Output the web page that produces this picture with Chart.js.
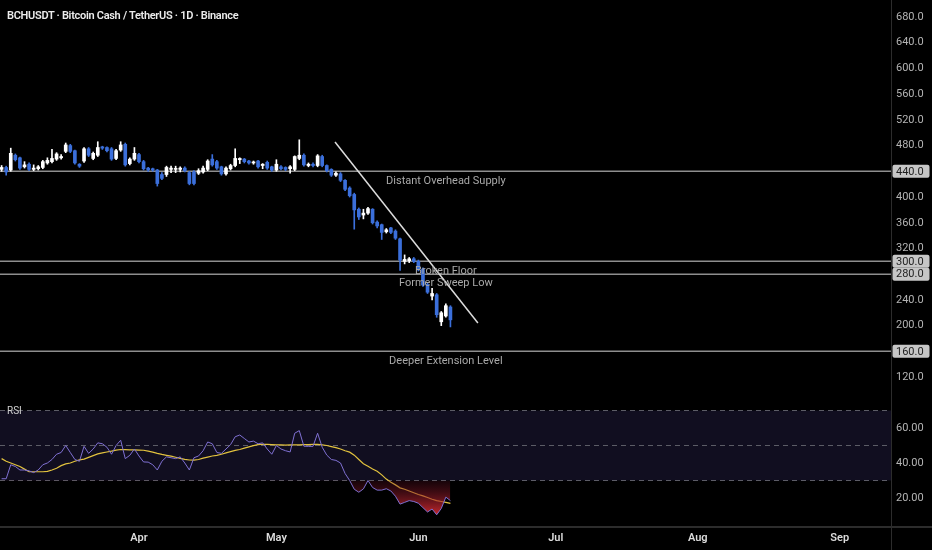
<!DOCTYPE html>
<html>
<head>
<meta charset="utf-8">
<script src="https://cdn.jsdelivr.net/npm/chart.js@4.4.0/dist/chart.umd.min.js"></script>
<style>
  html, body { margin: 0; padding: 0; background: #000; width: 932px; height: 550px; overflow: hidden; }
  #title { position: absolute; left: 7px; top: 9px; color: #ececec; font: 600 11px Roboto, sans-serif; letter-spacing: -0.3px; }
  #pwrap { position: absolute; left: 0; top: 0; width: 932px; height: 392px; }
  #rwrap { position: absolute; left: 0; top: 392px; width: 932px; height: 158px; }
</style>
</head>
<body>
<div id="pwrap"><canvas id="price"></canvas></div>
<div id="rwrap"><canvas id="rsi"></canvas></div>
<div id="title">BCHUSDT · Bitcoin Cash / TetherUS · 1D · Binance</div>
<script>
// daily candles, day 0 = Mar 1
const firstDay = 1;
const open = [443,446,442,465,461,447,451,443,444,446,453,455,459,461,471,480,472,451,456,475,
  460,465,478,477,475,460,473,482,452,459,466,455,445,444,442,435,435,443,443,443,
  445,438,439,437,439,443,459,455,447,436,444,449,458,459,456,453,456,449,454,447,
  442,447,446,444,443,460,465,449,451,449,463,449,443,434,436,426,414,404,381,372,
  375,381,361,357,346,352,347,335,300,301,304,300,288,264,246,248,206,215,229];
const high = [449,448,476,467,462,455,453,450,449,457,461,474,469,466,484,482,473,452,477,477,
  470,486,479,478,477,474,486,484,461,477,468,457,446,445,443,438,448,448,448,447,
  447,440,441,444,448,458,466,457,448,447,451,475,461,460,457,456,457,452,456,448,
  458,449,447,449,464,489,467,453,453,466,465,450,444,439,438,427,416,406,383,381,
  384,382,363,358,351,353,349,336,310,306,306,302,290,266,258,250,222,234,231];
const low = [440,434,440,456,443,445,441,441,442,444,451,453,457,459,469,469,451,446,454,463,
  458,463,474,470,457,458,471,448,450,457,453,442,440,440,417,427,432,438,438,439,
  439,419,419,435,437,441,448,443,434,434,442,447,452,453,451,451,445,444,443,440,
  440,442,441,437,441,458,448,447,447,447,447,439,432,432,424,410,400,350,365,366,
  373,358,352,334,344,343,334,286,296,298,298,285,261,250,240,213,200,213,198];
const close = [446,439,468,458,445,450,443,445,447,455,457,460,467,463,481,471,453,448,475,465,
  468,477,476,472,459,472,481,450,459,468,455,444,442,442,421,429,446,445,444,445,
  441,421,421,441,445,456,450,445,436,445,449,460,460,455,453,454,447,451,445,442,
  451,444,443,447,463,465,450,451,449,464,449,441,434,437,426,412,402,380,369,375,
  382,360,355,345,349,345,336,302,303,304,300,287,263,252,250,217,220,231,209];

// RSI(14) and its moving average
const rsi = [31,31,39,38,36,36,35.5,34.5,36,39,40,42,45,46,50,46,42,41,49.5,45.5,
  48,51.5,51,49,45,50,53,42.5,44.4,48,44,40.6,40.5,39,36,41,43.5,43,42.5,43.5,
  40,36,43,44,47,52,51,46,45.5,48,50.5,55,56,54,52,52.5,51,51.5,48,45,
  50,48,47,46.3,57,58.5,49.6,49.5,49.5,57,49,44.5,42,41.5,40,34,30,25,23.3,25.2,
  30,26,24.5,24.5,25.3,24,21,16.5,17.5,18.5,18,17,14.5,12,13.7,10.4,14,20.5,18.5];
const rsiMa = [42.5,41,40,39,38,36.5,35,35,35,35,35.2,36,37,38.5,39.5,40,41,41.8,42.2,43.2,
  44.2,45.2,45.8,46.3,46.8,47.4,47.7,47.6,47.5,47.5,47.4,47.3,46.8,46.2,45.5,44.9,44.4,43.9,43.3,42.6,
  42.1,41.7,41.6,42,42.8,43.4,44,44.4,45,45.8,46.5,47.2,47.7,48.5,49.2,49.9,50.5,50.7,50.6,50.5,
  50.4,50.3,50.2,50.3,50.3,50.4,50.5,50.5,50.6,50.6,50.4,50,49.4,48.8,48,47,46.2,44.5,42,39.6,
  38.2,36.6,35.3,33.2,30.8,29,27.5,25.8,25,24,23,22,21.2,20.3,19.3,18.5,18,17.5,16.9];

// drawn levels and trend line
const levels = [440, 300, 280, 160];
const levelNames = ['Distant Overhead Supply', 'Broken Floor', 'Former Sweep Low', 'Deeper Extension Level'];
const trendLine = [{x: 73.8, y: 485.6}, {x: 105, y: 204}];
const labelDay = 98;

// axis ticks
const priceTicks = [120,160,200,240,280,320,360,400,440,480,520,560,600,640,680];
const rsiTicks = [20, 40, 60];
const rsiBands = [70, 50, 30];
const monthStarts = [31, 61, 92, 122, 153, 184];
const monthNames = ['Apr', 'May', 'Jun', 'Jul', 'Aug', 'Sep'];

const xMin = 0.65, xMax = 195.2;
const priceMin = 96.8, priceMax = 706.4;
const rsiMin = 4, rsiMax = 80.57;

const UP = '#ffffff', DOWN = '#3b6fdb';
const days = open.map((_, i) => firstDay + i);
const colors = open.map((o, i) => close[i] >= o ? UP : DOWN);

Chart.defaults.font.family = 'Roboto, sans-serif';
Chart.defaults.font.size = 11;

const fitY = s => { s.width = 41; s.paddingTop = 0; s.paddingBottom = 0; };

const priceExtras = {
  id: 'priceExtras',
  afterDatasetsDraw(chart) {
    const {ctx, scales: {x, y}} = chart;
    ctx.save();
    ctx.font = '11px Roboto, sans-serif';
    ctx.fillStyle = '#a9a9a9';
    ctx.textAlign = 'center';
    ctx.textBaseline = 'middle';
    levels.forEach((lv, i) => {
      ctx.fillText(levelNames[i], x.getPixelForValue(labelDay), y.getPixelForValue(lv) + 9.5);
    });
    ctx.restore();
  },
  afterDraw(chart) {
    const {ctx, chartArea: a, scales: {y}} = chart;
    ctx.save();
    ctx.strokeStyle = '#2c2c2c';
    ctx.lineWidth = 1;
    ctx.beginPath();
    ctx.moveTo(a.right + 0.5, 0);
    ctx.lineTo(a.right + 0.5, chart.height);
    ctx.stroke();
    ctx.font = '11px Roboto, sans-serif';
    ctx.textBaseline = 'middle';
    ctx.textAlign = 'left';
    levels.forEach(lv => {
      const py = y.getPixelForValue(lv);
      ctx.fillStyle = '#c6c6c6';
      ctx.beginPath();
      ctx.roundRect(a.right + 1.5, py - 6.5, 37, 13, 2);
      ctx.fill();
    });
    levels.forEach(lv => {
      ctx.fillStyle = '#1e1e1e';
      ctx.fillText(lv.toFixed(1), a.right + 5, y.getPixelForValue(lv) + 0.5);
    });
    ctx.restore();
  }
};

new Chart(document.getElementById('price'), {
  type: 'bar',
  data: {
    datasets: [
      {
        data: days.map((d, i) => ({x: d, y: [low[i], high[i]]})),
        backgroundColor: colors, barThickness: 1, grouped: false, order: 2
      },
      {
        data: days.map((d, i) => ({x: d, y: [open[i], close[i]]})),
        backgroundColor: colors, barThickness: 3, minBarLength: 1, grouped: false, order: 1
      },
      ...levels.map(lv => ({
        type: 'line',
        data: [{x: xMin, y: lv}, {x: xMax, y: lv}],
        borderColor: '#8e8e8e', borderWidth: 1.5, pointRadius: 0, order: 3
      })),
      {
        type: 'line', data: trendLine,
        borderColor: '#dcdcdc', borderWidth: 1.5, pointRadius: 0, order: 0
      }
    ]
  },
  options: {
    responsive: true,
    maintainAspectRatio: false,
    animation: false,
    layout: { padding: 0 },
    plugins: { legend: { display: false }, tooltip: { enabled: false } },
    scales: {
      x: { type: 'linear', min: xMin, max: xMax, offset: false, display: false },
      y: {
        position: 'right', min: priceMin, max: priceMax,
        afterBuildTicks: s => { s.ticks = priceTicks.map(v => ({value: v})); },
        afterFit: fitY,
        grid: { display: false, drawTicks: false }, border: { display: false },
        ticks: { color: '#b4b4b4', padding: 5, callback: v => v.toFixed(1) }
      }
    }
  },
  plugins: [priceExtras]
});

// RSI pane
const rsiCanvas = document.getElementById('rsi');
const rsiAreaH = 134;
const yOf = v => (rsiMax - v) / (rsiMax - rsiMin) * rsiAreaH;
const g = rsiCanvas.getContext('2d').createLinearGradient(0, yOf(30), 0, yOf(10));
g.addColorStop(0, 'rgba(90,15,35,0.25)');
g.addColorStop(1, 'rgba(225,45,50,0.9)');

const rsiExtras = {
  id: 'rsiExtras',
  beforeDatasetsDraw(chart) {
    const {ctx, chartArea: a, scales: {y}} = chart;
    ctx.save();
    ctx.fillStyle = '#110e20';
    const top = y.getPixelForValue(rsiBands[0]), bot = y.getPixelForValue(rsiBands[2]);
    ctx.fillRect(a.left, top, a.right - a.left, bot - top);
    ctx.strokeStyle = '#5c5c66';
    ctx.lineWidth = 1;
    ctx.setLineDash([5, 4]);
    rsiBands.forEach(v => {
      const py = Math.round(y.getPixelForValue(v)) + 0.5;
      ctx.beginPath();
      ctx.moveTo(a.left, py);
      ctx.lineTo(a.right, py);
      ctx.stroke();
    });
    ctx.restore();
  },
  afterDraw(chart) {
    const {ctx, chartArea: a} = chart;
    ctx.save();
    ctx.strokeStyle = '#2c2c2c';
    ctx.lineWidth = 1;
    ctx.beginPath();
    ctx.moveTo(a.right + 0.5, 0);
    ctx.lineTo(a.right + 0.5, chart.height);
    ctx.stroke();
    ctx.lineWidth = 2;
    ctx.beginPath();
    ctx.moveTo(0, a.bottom + 1);
    ctx.lineTo(chart.width, a.bottom + 1);
    ctx.stroke();
    ctx.font = '10px Roboto, sans-serif';
    ctx.fillStyle = '#d0d0d0';
    ctx.textBaseline = 'middle';
    ctx.fillText('RSI', 7, 19);
    ctx.restore();
  }
};

new Chart(rsiCanvas, {
  type: 'line',
  data: {
    datasets: [
      {
        data: days.map((d, i) => ({x: d, y: rsi[i]})),
        borderColor: '#7f70d2', borderWidth: 1, pointRadius: 0,
        fill: { target: { value: 30 }, above: 'rgba(0,0,0,0)', below: g }
      },
      {
        data: days.map((d, i) => ({x: d, y: rsiMa[i]})),
        borderColor: '#e2c23e', borderWidth: 1.2, pointRadius: 0
      }
    ]
  },
  options: {
    responsive: true,
    maintainAspectRatio: false,
    animation: false,
    layout: { padding: 0 },
    plugins: { legend: { display: false }, tooltip: { enabled: false } },
    scales: {
      x: {
        type: 'linear', min: xMin, max: xMax,
        afterBuildTicks: s => { s.ticks = monthStarts.map(v => ({value: v})); },
        afterFit: s => { s.height = 24; s.paddingLeft = 0; s.paddingRight = 0; },
        grid: { display: false, drawTicks: false }, border: { display: false },
        ticks: {
          color: '#dcdcdc', padding: 6, maxRotation: 0, autoSkip: false,
          font: { weight: '600' },
          callback: (v, i) => monthNames[i]
        }
      },
      y: {
        position: 'right', min: rsiMin, max: rsiMax,
        afterBuildTicks: s => { s.ticks = rsiTicks.map(v => ({value: v})); },
        afterFit: fitY,
        grid: { display: false, drawTicks: false }, border: { display: false },
        ticks: { color: '#b4b4b4', padding: 5, callback: v => v.toFixed(2) }
      }
    }
  },
  plugins: [rsiExtras]
});
</script>
</body>
</html>
